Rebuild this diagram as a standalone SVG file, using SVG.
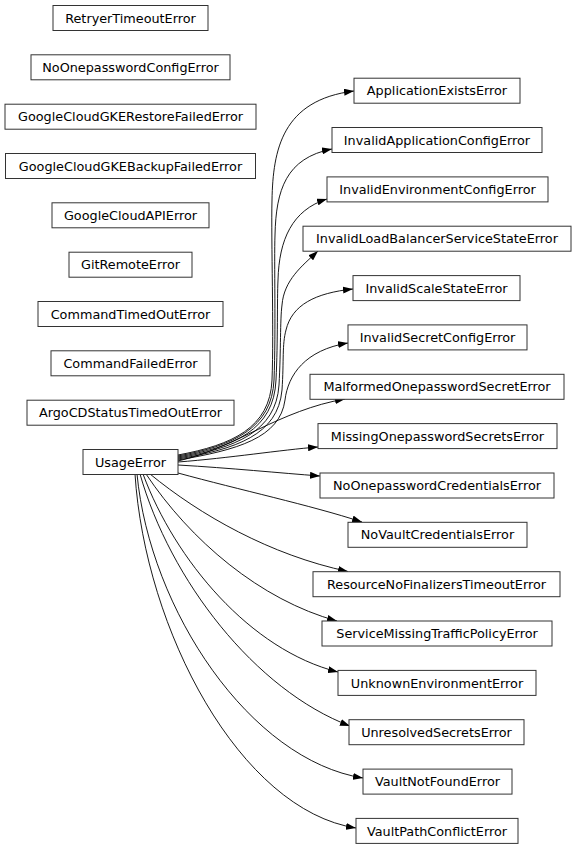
<svg xmlns="http://www.w3.org/2000/svg" width="576" height="849" viewBox="0 0 576 849">
<style>
.n rect{fill:#fff;stroke:#333;stroke-width:1}
.n text{font-family:"DejaVu Sans","Liberation Sans",sans-serif;font-size:12.8px;fill:#000;text-anchor:middle}
.e path{fill:none;stroke:#000;stroke-width:0.9}
</style>
<defs>
<marker id="ah" markerUnits="userSpaceOnUse" viewBox="0 0 10 7" refX="10" refY="3.5" markerWidth="10" markerHeight="7" orient="auto">
<path d="M0,0 L10,3.5 L0,7 z" fill="#000"/>
</marker>
</defs>
<rect width="576" height="849" fill="#fff"/>
<g class="e">
<path marker-end="url(#ah)" d="M178,455 C232,445 270,428 272,380 C274,330 271,240 272,200 C273,150 282,100 354,91"/>
<path marker-end="url(#ah)" d="M178,456 C233,446 272,428 274,380 C276,330 274,260 275,235 C276,190 286,158 332,149"/>
<path marker-end="url(#ah)" d="M178,457 C234,447 274,430 276,380 C278,340 277,300 278,280 C279,240 292,210 327,199"/>
<path marker-end="url(#ah)" d="M178,458 C235,448 276,432 279,385 C281,350 280,320 282,305 C284,280 302,266 318,251"/>
<path marker-end="url(#ah)" d="M178,459 C236,449 278,435 282,390 C284,360 282,345 286,330 C292,305 315,293 353,289"/>
<path marker-end="url(#ah)" d="M178,460 C237,450 280,438 285,400 C288,375 305,350 348,343"/>
<path marker-end="url(#ah)" d="M178,461 C235,448 280,410 345,399"/>
<path marker-end="url(#ah)" d="M178,462 C230,458 280,450 318,447"/>
<path marker-end="url(#ah)" d="M178,465 C230,468 280,473 320,476"/>
<path marker-end="url(#ah)" d="M178,473 C240,490 310,505 362,522"/>
<path marker-end="url(#ah)" d="M150,474 C200,515 270,555 348,571.5"/>
<path marker-end="url(#ah)" d="M146,474 C190,540 260,600 337,621"/>
<path marker-end="url(#ah)" d="M143,474 C175,560 250,650 338,672"/>
<path marker-end="url(#ah)" d="M140,474 C170,580 255,690 350,726"/>
<path marker-end="url(#ah)" d="M137,474 C150,610 250,760 363,778"/>
<path marker-end="url(#ah)" d="M135,474 C145,630 240,810 356,828"/>
</g>
<g id="RetryerTimeoutError" class="n"><rect x="53" y="5.5" width="155" height="25"/><text x="130.5" y="22.6">RetryerTimeoutError</text></g>
<g id="NoOnepasswordConfigError" class="n"><rect x="31" y="54.8" width="199" height="25"/><text x="130.5" y="71.9">NoOnepasswordConfigError</text></g>
<g id="GoogleCloudGKERestoreFailedError" class="n"><rect x="5" y="104.2" width="251" height="25"/><text x="130.5" y="121.3">GoogleCloudGKERestoreFailedError</text></g>
<g id="GoogleCloudGKEBackupFailedError" class="n"><rect x="5.5" y="153.5" width="250" height="25"/><text x="130.5" y="170.6">GoogleCloudGKEBackupFailedError</text></g>
<g id="GoogleCloudAPIError" class="n"><rect x="52" y="202.8" width="157" height="25"/><text x="130.5" y="219.9">GoogleCloudAPIError</text></g>
<g id="GitRemoteError" class="n"><rect x="69" y="252.2" width="123" height="25"/><text x="130.5" y="269.3">GitRemoteError</text></g>
<g id="CommandTimedOutError" class="n"><rect x="38" y="301.5" width="185" height="25"/><text x="130.5" y="318.6">CommandTimedOutError</text></g>
<g id="CommandFailedError" class="n"><rect x="51" y="350.8" width="159" height="25"/><text x="130.5" y="367.9">CommandFailedError</text></g>
<g id="ArgoCDStatusTimedOutError" class="n"><rect x="27" y="400.2" width="207" height="25"/><text x="130.5" y="417.3">ArgoCDStatusTimedOutError</text></g>
<g id="UsageError" class="n"><rect x="83" y="449.5" width="95" height="25"/><text x="130.5" y="466.6">UsageError</text></g>
<g id="ApplicationExistsError" class="n"><rect x="354" y="78.2" width="166" height="25"/><text x="437" y="95.3">ApplicationExistsError</text></g>
<g id="InvalidApplicationConfigError" class="n"><rect x="332" y="127.5" width="210" height="25"/><text x="437" y="144.6">InvalidApplicationConfigError</text></g>
<g id="InvalidEnvironmentConfigError" class="n"><rect x="327" y="176.9" width="221" height="25"/><text x="437.5" y="194">InvalidEnvironmentConfigError</text></g>
<g id="InvalidLoadBalancerServiceStateError" class="n"><rect x="303" y="226.2" width="268" height="25"/><text x="437" y="243.3">InvalidLoadBalancerServiceStateError</text></g>
<g id="InvalidScaleStateError" class="n"><rect x="353" y="275.6" width="167" height="25"/><text x="436.5" y="292.7">InvalidScaleStateError</text></g>
<g id="InvalidSecretConfigError" class="n"><rect x="348" y="324.9" width="179" height="25"/><text x="437.5" y="342">InvalidSecretConfigError</text></g>
<g id="MalformedOnepasswordSecretError" class="n"><rect x="310" y="374.3" width="254" height="25"/><text x="437" y="391.4">MalformedOnepasswordSecretError</text></g>
<g id="MissingOnepasswordSecretsError" class="n"><rect x="318" y="423.6" width="239" height="25"/><text x="437.5" y="440.7">MissingOnepasswordSecretsError</text></g>
<g id="NoOnepasswordCredentialsError" class="n"><rect x="320" y="473" width="234" height="25"/><text x="437" y="490.1">NoOnepasswordCredentialsError</text></g>
<g id="NoVaultCredentialsError" class="n"><rect x="348" y="522.3" width="179" height="25"/><text x="437.5" y="539.4">NoVaultCredentialsError</text></g>
<g id="ResourceNoFinalizersTimeoutError" class="n"><rect x="313" y="571.7" width="247" height="25"/><text x="436.5" y="588.8">ResourceNoFinalizersTimeoutError</text></g>
<g id="ServiceMissingTrafficPolicyError" class="n"><rect x="322" y="621" width="230" height="25"/><text x="437" y="638.1">ServiceMissingTrafficPolicyError</text></g>
<g id="UnknownEnvironmentError" class="n"><rect x="338" y="670.4" width="198" height="25"/><text x="437" y="687.5">UnknownEnvironmentError</text></g>
<g id="UnresolvedSecretsError" class="n"><rect x="349" y="719.7" width="175" height="25"/><text x="436.5" y="736.8">UnresolvedSecretsError</text></g>
<g id="VaultNotFoundError" class="n"><rect x="363" y="769.1" width="149" height="25"/><text x="437.5" y="786.2">VaultNotFoundError</text></g>
<g id="VaultPathConflictError" class="n"><rect x="356" y="818.4" width="162" height="25"/><text x="437" y="835.5">VaultPathConflictError</text></g>
</svg>
